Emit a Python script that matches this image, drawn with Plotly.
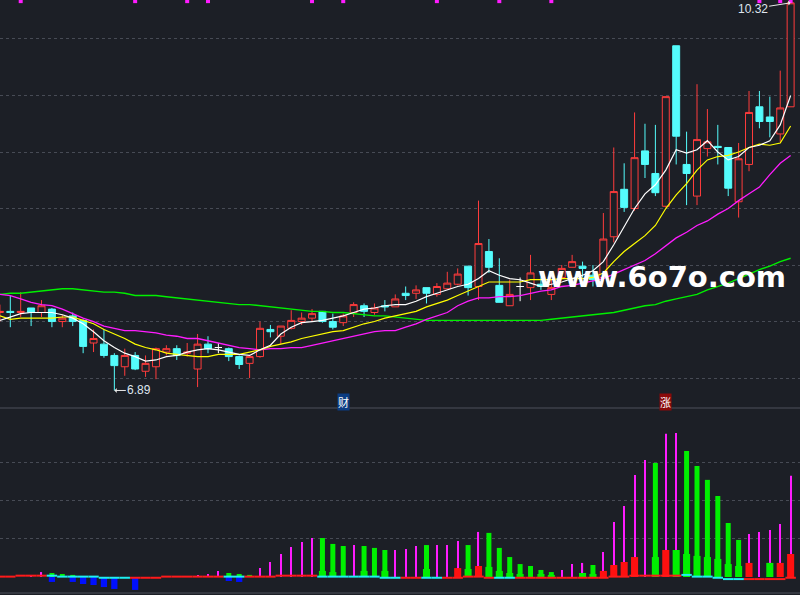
import plotly.graph_objects as go

# ── Colours ────────────────────────────────────────────────────────────────────
BG    = "#1c1f26"
GRID  = "#474b55"
RED   = "#ff3c3c"
CYAN  = "#54fcfc"
MAG   = "#ff1cff"
GREEN = "#00f000"
BLUE  = "#0010ff"

# ── Daily candles (index 1..77) ────────────────────────────────────────────────
IDX = list(range(1, 78))

OPEN = [7.58, 7.59, 7.58, 7.62, 7.58, 7.61, 7.50, 7.55, 7.51, 7.31,
        7.30, 7.20, 7.10, 7.20, 7.06, 7.10, 7.23, 7.26, 7.22, 7.08,
        7.30, 7.27, 7.26, 7.19, 7.13, 7.19, 7.43, 7.37, 7.44, 7.50,
        7.53, 7.59, 7.50, 7.49, 7.58, 7.64, 7.58, 7.64, 7.63, 7.75,
        7.75, 7.80, 7.74, 7.79, 7.83, 7.99, 7.81, 8.12, 7.82, 7.64,
        7.81, 7.80, 7.83, 7.74, 7.89, 7.98, 7.99, 7.91, 7.89, 8.25,
        8.67, 8.50, 9.01, 8.81, 8.52, 9.94, 8.89, 8.61, 9.03, 9.05,
        9.04, 8.56, 8.89, 9.40, 9.31, 9.16, 9.40]
HIGH = [7.65, 7.73, 7.76, 7.62, 7.69, 7.62, 7.56, 7.58, 7.52, 7.43,
        7.43, 7.22, 7.26, 7.23, 7.20, 7.27, 7.29, 7.29, 7.31, 7.39,
        7.37, 7.31, 7.27, 7.20, 7.20, 7.50, 7.47, 7.46, 7.60, 7.58,
        7.61, 7.59, 7.57, 7.57, 7.67, 7.66, 7.66, 7.69, 7.74, 7.81,
        7.82, 7.80, 7.84, 7.94, 7.97, 7.99, 8.57, 8.23, 8.06, 7.87,
        7.89, 8.09, 7.89, 7.87, 8.00, 8.09, 8.03, 8.00, 8.46, 9.04,
        8.90, 9.35, 9.25, 9.24, 9.49, 9.94, 9.18, 9.60, 9.38, 9.24,
        9.04, 9.08, 9.54, 9.54, 9.49, 9.72, 10.32]
LOW = [7.50, 7.45, 7.54, 7.46, 7.54, 7.45, 7.45, 7.46, 7.22, 7.23,
       7.18, 6.89, 7.02, 7.07, 7.01, 6.99, 7.20, 7.16, 7.19, 6.92,
       7.22, 7.22, 7.15, 7.08, 7.00, 7.18, 7.36, 7.30, 7.43, 7.47,
       7.50, 7.49, 7.43, 7.46, 7.54, 7.54, 7.56, 7.59, 7.63, 7.69,
       7.70, 7.66, 7.72, 7.79, 7.82, 7.73, 7.69, 7.93, 7.67, 7.64,
       7.68, 7.69, 7.78, 7.69, 7.89, 7.98, 7.89, 7.81, 7.89, 8.20,
       8.47, 8.48, 8.77, 8.61, 8.51, 8.89, 8.53, 8.53, 8.96, 8.89,
       8.61, 8.42, 8.83, 9.21, 9.13, 9.09, 9.40]
CLOSE = [7.59, 7.58, 7.59, 7.58, 7.64, 7.50, 7.53, 7.50, 7.28, 7.35,
         7.20, 7.11, 7.20, 7.08, 7.13, 7.26, 7.26, 7.20, 7.23, 7.30,
         7.26, 7.27, 7.19, 7.12, 7.19, 7.44, 7.41, 7.46, 7.51, 7.53,
         7.57, 7.50, 7.45, 7.55, 7.65, 7.59, 7.62, 7.63, 7.70, 7.73,
         7.78, 7.75, 7.81, 7.84, 7.92, 7.80, 8.19, 7.98, 7.67, 7.74,
         7.81, 7.93, 7.81, 7.80, 7.97, 8.03, 7.97, 7.87, 8.23, 8.65,
         8.51, 8.95, 8.89, 8.64, 9.49, 9.14, 8.81, 9.11, 9.09, 9.04,
         8.68, 8.94, 9.35, 9.27, 9.27, 9.39, 10.32]

# ── Moving averages ────────────────────────────────────────────────────────────
MA5 = [7.51, 7.54, 7.57, 7.58, 7.58, 7.58, 7.56, 7.53, 7.48, 7.41,
       7.33, 7.27, 7.22, 7.19, 7.15, 7.16, 7.19, 7.20, 7.23, 7.25,
       7.26, 7.25, 7.23, 7.21, 7.20, 7.25, 7.29, 7.39, 7.45, 7.49,
       7.50, 7.51, 7.53, 7.55, 7.58, 7.61, 7.62, 7.64, 7.65, 7.65,
       7.68, 7.72, 7.75, 7.78, 7.81, 7.83, 7.88, 7.95, 7.91, 7.88,
       7.87, 7.84, 7.81, 7.83, 7.85, 7.88, 7.91, 7.95, 8.03, 8.18,
       8.34, 8.50, 8.63, 8.71, 8.84, 9.02, 8.99, 9.02, 9.10, 9.00,
       8.93, 8.96, 9.04, 9.06, 9.10, 9.24, 9.50]
MA10 = [7.55, 7.52, 7.53, 7.53, 7.53, 7.53, 7.54, 7.54, 7.51, 7.48,
        7.43, 7.39, 7.35, 7.30, 7.27, 7.25, 7.22, 7.21, 7.20, 7.19,
        7.19, 7.21, 7.21, 7.21, 7.23, 7.25, 7.28, 7.30, 7.32, 7.35,
        7.37, 7.39, 7.41, 7.42, 7.45, 7.48, 7.50, 7.53, 7.55, 7.57,
        7.59, 7.63, 7.66, 7.69, 7.73, 7.77, 7.81, 7.85, 7.85, 7.85,
        7.85, 7.87, 7.87, 7.87, 7.88, 7.88, 7.88, 7.89, 7.93, 8.03,
        8.12, 8.19, 8.26, 8.35, 8.50, 8.62, 8.72, 8.84, 8.93, 8.96,
        8.97, 9.00, 9.04, 9.07, 9.06, 9.08, 9.23]
MA20 = [7.74, 7.73, 7.70, 7.67, 7.65, 7.64, 7.61, 7.57, 7.53, 7.50,
        7.46, 7.44, 7.42, 7.42, 7.41, 7.40, 7.38, 7.37, 7.35, 7.35,
        7.33, 7.31, 7.29, 7.27, 7.26, 7.25, 7.26, 7.26, 7.27, 7.27,
        7.29, 7.31, 7.33, 7.35, 7.37, 7.39, 7.41, 7.42, 7.42, 7.45,
        7.48, 7.52, 7.55, 7.58, 7.64, 7.68, 7.71, 7.71, 7.72, 7.72,
        7.73, 7.75, 7.77, 7.78, 7.81, 7.82, 7.84, 7.86, 7.88, 7.92,
        7.96, 8.00, 8.04, 8.10, 8.17, 8.24, 8.29, 8.35, 8.39, 8.45,
        8.50, 8.57, 8.63, 8.69, 8.80, 8.90, 8.97]
MA60 = [7.74, 7.75, 7.75, 7.76, 7.77, 7.78, 7.79, 7.79, 7.78, 7.77,
        7.76, 7.76, 7.75, 7.73, 7.73, 7.73, 7.72, 7.71, 7.70, 7.69,
        7.68, 7.67, 7.66, 7.65, 7.65, 7.64, 7.63, 7.62, 7.61, 7.60,
        7.59, 7.59, 7.58, 7.58, 7.57, 7.56, 7.55, 7.55, 7.54, 7.53,
        7.52, 7.51, 7.51, 7.51, 7.51, 7.51, 7.51, 7.51, 7.51, 7.51,
        7.51, 7.51, 7.51, 7.52, 7.53, 7.54, 7.55, 7.56, 7.57, 7.58,
        7.60, 7.62, 7.64, 7.65, 7.68, 7.70, 7.72, 7.74, 7.78, 7.81,
        7.84, 7.88, 7.92, 7.96, 7.99, 8.03, 8.06]

DOT_IDX = [3, 14, 19, 21, 31, 34, 43, 49, 54, 74, 76, 77]

# ── Lower indicator panel ──────────────────────────────────────────────────────
MAG_IDX = [4, 5, 20, 21, 22, 26, 27, 28, 29, 30, 31, 35, 39, 40, 41, 43, 44,
           45, 47, 55, 56, 57, 59, 60, 61, 62, 63, 65, 66, 73, 74, 75, 76, 77]
MAG_VAL = [0.5, 2.6, 1.1, 1.6, 3.2, 4.7, 7.9, 12.1, 15.8, 18.4, 20.5, 16.8,
           14.2, 14.7, 16.3, 16.8, 16.8, 18.9, 23.7, 3.7, 6.8, 7.4, 13.2, 28.9,
           37.4, 53.7, 61.6, 75.3, 75.8, 22.6, 23.7, 24.7, 27.9, 53.2]

GREEN_IDX = [6, 7, 8, 23, 24, 25, 32, 33, 34, 36, 37, 38, 42, 46, 48, 49, 50,
             51, 52, 53, 54, 57, 58, 64, 66, 67, 68, 69, 70, 71, 72, 75]
GREEN_VAL = [2.1, 1.6, 1.1, 2.1, 1.6, 1.1, 20.5, 17.4, 16.3, 16.3, 15.3, 14.2,
             16.8, 16.8, 23.2, 15.3, 10.5, 6.8, 5.8, 3.7, 2.6, 2.1, 6.3, 60.0,
             14.2, 66.3, 58.4, 51.1, 42.6, 28.4, 19.5, 7.4]

BASE_IDX = [32, 33, 36, 38, 42, 46, 48, 49, 50, 51, 53, 54, 57, 58, 64, 66,
            67, 68, 69, 70, 71, 72, 75]
BASE_VAL = [3.2, 2.6, 3.2, 3.2, 4.2, 4.2, 5.3, 3.2, 2.1, 1.6, 1.6, 1.1, 2.1,
            1.6, 10.5, 14.2, 12.1, 11.1, 10.5, 9.5, 6.8, 5.8, 7.4]

RED_IDX = [45, 47, 59, 60, 61, 62, 65, 73, 76, 77]
RED_VAL = [4.7, 5.8, 3.2, 6.3, 7.9, 10.5, 14.2, 7.4, 7.4, 12.1]

BLUE_IDX = [6, 8, 9, 10, 11, 12, 14, 23, 24]
BLUE_VAL = [-2.6, -2.6, -3.7, -4.2, -5.3, -6.3, -6.8, -2.1, -2.6]

STEP_VAL = [0.2, 0.2, 0.7, 0.7, 0.7, 0.7, 0.2, 0.2, 0.2, 0.2,
            -0.4, -0.4, -0.4, -0.4, -0.4, -0.4, 0.2, 0.2, 0.2, 0.2,
            0.2, 0.2, 0.2, 0.2, 0.2, 0.2, 0.2, 0.7, 0.7, 0.7,
            0.7, 0.2, 0.2, 0.2, 0.2, 0.2, 0.2, -0.4, -0.4, -0.4,
            -0.4, -0.4, -0.4, -0.4, -0.4, 0.2, 0.2, -0.4, -0.4, -0.4,
            -0.4, -0.4, -0.4, -0.4, -0.4, -0.4, -0.4, -0.4, -0.4, 0.2,
            0.2, 0.7, 0.7, 0.7, 0.7, 0.7, 1.1, 0.2, 0.2, -0.4,
            -1.1, -1.1, -1.1, -1.1, -1.1, -1.1, -0.4]
STEP_COL = list("RRRRR" "CCCCCCCC" "RRRRRRRRR" "CC" "RRRRRRR" "CCCCCCCC"
                "RR" "CC" "RRRRR" "CC" "RRRRRRRRRRRRRRRR" "CCCCCC" "RRRRR")

# ── Figure ────────────────────────────────────────────────────────────────────
fig = go.Figure()

norm = [i for i in range(len(IDX)) if OPEN[i] != CLOSE[i]]
doji = [i for i in range(len(IDX)) if OPEN[i] == CLOSE[i]]

fig.add_trace(go.Candlestick(
    x=[IDX[i] for i in norm], open=[OPEN[i] for i in norm],
    high=[HIGH[i] for i in norm], low=[LOW[i] for i in norm],
    close=[CLOSE[i] for i in norm],
    increasing=dict(line=dict(color=RED, width=1), fillcolor=BG),
    decreasing=dict(line=dict(color=CYAN, width=1), fillcolor=CYAN),
    whiskerwidth=0, hoverinfo="skip"
))
fig.add_trace(go.Candlestick(
    x=[IDX[i] for i in doji], open=[OPEN[i] for i in doji],
    high=[HIGH[i] for i in doji], low=[LOW[i] for i in doji],
    close=[CLOSE[i] for i in doji],
    increasing=dict(line=dict(color="white", width=1), fillcolor="white"),
    decreasing=dict(line=dict(color="white", width=1), fillcolor="white"),
    whiskerwidth=0, hoverinfo="skip"
))

for vals, col, w in [(MA60, GREEN, 1.4), (MA20, MAG, 1.3),
                     (MA10, "#ffff00", 1.2), (MA5, "white", 1.2)]:
    fig.add_trace(go.Scatter(x=IDX, y=vals, mode="lines",
                             line=dict(color=col, width=w), hoverinfo="skip"))

fig.add_trace(go.Scatter(
    x=DOT_IDX, y=[10.335] * len(DOT_IDX), mode="markers",
    marker=dict(symbol="square", size=4, color=MAG),
    cliponaxis=False, hoverinfo="skip"
))

# lower panel
def bars(idx, vals, color, width):
    fig.add_trace(go.Bar(x=idx, y=vals, width=width, marker_color=color,
                         marker_line_width=0, xaxis="x2", yaxis="y2",
                         hoverinfo="skip"))

bars(MAG_IDX, MAG_VAL, MAG, 0.11)
bars(GREEN_IDX, GREEN_VAL, GREEN, 0.48)
bars(BASE_IDX, BASE_VAL, GREEN, 0.68)
bars(RED_IDX, RED_VAL, "#ff1010", 0.68)
bars(BLUE_IDX, BLUE_VAL, BLUE, 0.6)

for key, col in [("R", "#ff1a1a"), ("C", "#1ef0f0")]:
    xs, ys = [], []
    for i, v, c in zip(IDX, STEP_VAL, STEP_COL):
        if c == key:
            xs += [i - 0.5, i + 0.5, None]
            ys += [v, v, None]
    fig.add_trace(go.Scatter(x=xs, y=ys, mode="lines", xaxis="x2", yaxis="y2",
                             line=dict(color=col, width=2), hoverinfo="skip"))

SPLIT = 187 / 595
XR = [1.01, 77.9]

fig.update_layout(
    width=800, height=595,
    margin=dict(l=0, r=0, t=0, b=0),
    paper_bgcolor=BG, plot_bgcolor=BG,
    showlegend=False, barmode="overlay",
    boxgap=0.33, boxgroupgap=0,
    xaxis=dict(domain=[0, 1], range=XR, anchor="y", showgrid=False,
               showticklabels=False, zeroline=False, showline=False,
               rangeslider=dict(visible=False)),
    xaxis2=dict(domain=[0, 1], range=XR, anchor="y2", showgrid=False,
                showticklabels=False, zeroline=False, showline=False),
    yaxis=dict(domain=[SPLIT, 1], range=[6.735, 10.345],
               tickvals=[7.0, 7.5, 8.0, 8.5, 9.0, 9.5, 10.0],
               showticklabels=False, zeroline=False,
               gridcolor=GRID, griddash="dot", gridwidth=1),
    yaxis2=dict(domain=[0, SPLIT], range=[-9.47, 88.9],
                tickvals=[20, 40, 60], showticklabels=False, zeroline=False,
                gridcolor=GRID, griddash="dot", gridwidth=1),
    shapes=[
        dict(type="line", xref="paper", yref="paper", x0=0, x1=1,
             y0=SPLIT, y1=SPLIT, line=dict(color="#3c404a", width=1.5)),
        dict(type="line", xref="paper", yref="paper", x0=0, x1=1,
             y0=2 / 595, y1=2 / 595, line=dict(color="#3c404a", width=1.5)),
    ],
)

LABEL_FONT = dict(family="Liberation Sans", size=12, color="#dfe5ee")
fig.add_annotation(x=12, y=6.89, xref="x", yref="y", text="6.89",
                   showarrow=True, ax=25, ay=0, arrowhead=1, arrowsize=0.8,
                   arrowwidth=1, arrowcolor="#e8e8e8", standoff=0,
                   font=LABEL_FONT)
fig.add_annotation(x=77, y=10.32, xref="x", yref="y", text="10.32",
                   showarrow=True, ax=-38, ay=6, arrowhead=1, arrowsize=0.8,
                   arrowwidth=1, arrowcolor="#e8e8e8", standoff=0,
                   font=LABEL_FONT)

fig.add_annotation(x=34, y=1 - 402 / 595, xref="x", yref="paper", text="财",
                   showarrow=False, bgcolor="#0b3c82", borderpad=0,
                   xanchor="center", yanchor="middle",
                   font=dict(family="Noto Sans CJK SC", size=11, color="white"))
fig.add_annotation(x=65, y=1 - 402 / 595, xref="x", yref="paper", text="涨",
                   showarrow=False, bgcolor="#8a0a0a", borderpad=0,
                   xanchor="center", yanchor="middle",
                   font=dict(family="Noto Sans CJK SC", size=11, color="white"))

# watermark
fig.add_annotation(x=662 / 800, y=1 - 277 / 595, xref="paper", yref="paper",
                   xanchor="center", yanchor="middle",
                   text="<b>www.6o7o.com</b>", showarrow=False,
                   font=dict(family="DejaVu Sans", size=29, color="white"))

# page margin off so the 800x595 figure sits at the window origin
fig.write_html("out.html",
               config={"displayModeBar": False},
               post_script="document.body.style.margin='0px';")
